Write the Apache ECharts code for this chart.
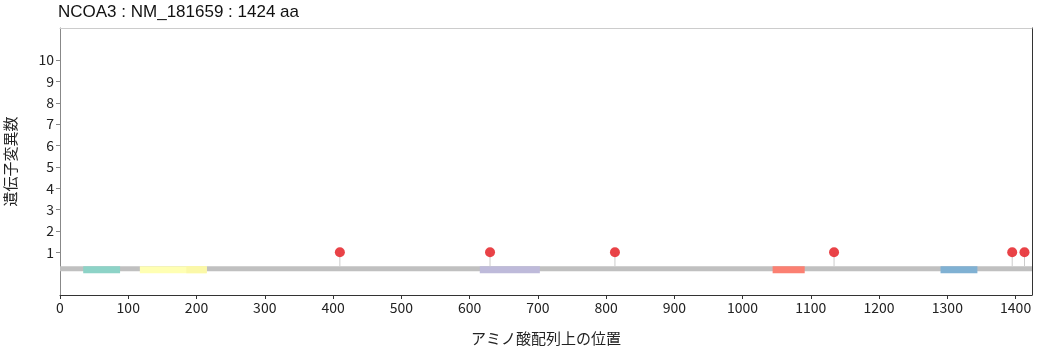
<!DOCTYPE html>
<html><head><meta charset="utf-8">
<script src="https://cdn.jsdelivr.net/npm/echarts@6/dist/echarts.min.js"></script>
<style>html,body{margin:0;padding:0;background:#fff}#c{width:1039px;height:350px}</style>
</head><body><div id="c"></div>
<script>
const titleText = "NCOA3 : NM_181659 : 1424 aa";
const proteinLength = 1424;
const xTicks = [0,100,200,300,400,500,600,700,800,900,1000,1100,1200,1300,1400];
const yTicks = [1,2,3,4,5,6,7,8,9,10];
const domainStart = [34, 117, 185, 615, 1044, 1290];
const domainEnd   = [88, 215, 215, 703, 1091, 1344];
const domainColor = ["#8dd3c7", "#ffffb3", "#fbf8a8", "#bebada", "#fb8072", "#80b1d3"];
const mutPos = [410, 630, 813, 1134, 1395, 1413];
const mutCount = [1, 1, 1, 1, 1, 1];
const backboneY = 0.23;

const font = '"Noto Sans CJK JP", "Noto Sans", sans-serif';
const chart = echarts.init(document.getElementById('c'), null, {renderer:'canvas'});
const domainData = domainStart.map((s,i)=>[s, domainEnd[i], i]);
const mutData = mutPos.map((p,i)=>[p, mutCount[i]]);

chart.setOption({
  animation:false,
  title:{text:titleText, left:53, top:-1, textStyle:{fontFamily:'"Liberation Sans", Arial, sans-serif', fontSize:17, fontWeight:'normal', color:'#111'}},
  grid:{left:60, right:7, top:28, bottom:55, show:false, containLabel:false, outerBoundsMode:'none'},
  xAxis:[{type:'value', min:0, max:proteinLength,
    name:'アミノ酸配列上の位置', nameLocation:'middle', nameGap:36,
    nameTextStyle:{fontFamily:font, fontSize:15, color:'#222'},
    axisLine:{show:true, onZero:false, lineStyle:{color:'#333'}},
    axisTick:{show:true, customValues:xTicks, length:4, lineStyle:{color:'#333'}},
    axisLabel:{customValues:xTicks, formatter:v=>String(v), fontFamily:font, fontSize:14, color:'#222', margin:6},
    splitLine:{show:false}},
   {type:'value', position:'top', min:0, max:proteinLength,
    axisLine:{show:true, onZero:false, lineStyle:{color:'#cccccc'}},
    axisTick:{show:false}, axisLabel:{show:false}, splitLine:{show:false}}],
  yAxis:[{type:'value', min:-1, max:11.5,
    name:'遺伝子変異数', nameLocation:'middle', nameGap:42, nameRotate:90,
    nameTextStyle:{fontFamily:font, fontSize:15, color:'#222'},
    axisLine:{show:true, onZero:false, lineStyle:{color:'#888'}},
    axisTick:{show:true, customValues:yTicks, length:4, lineStyle:{color:'#888'}},
    axisLabel:{customValues:yTicks, formatter:v=>String(v), fontFamily:font, fontSize:14, color:'#222', margin:6},
    splitLine:{show:false}},
   {type:'value', position:'right', min:-1, max:11.5,
    axisLine:{show:true, onZero:false, lineStyle:{color:'#333'}},
    axisTick:{show:false}, axisLabel:{show:false}, splitLine:{show:false}}],
  series:[
    {type:'custom', data:[[0, proteinLength]], z:1,
      renderItem:(params, api)=>{
        const a = api.coord([api.value(0), backboneY]);
        const b = api.coord([api.value(1), backboneY]);
        return {type:'rect', shape:{x:a[0], y:a[1]-2.5, width:b[0]-a[0], height:5}, style:{fill:'#c0c0c0'}};
      }},
    {type:'custom', data:domainData, z:2,
      renderItem:(params, api)=>{
        const a = api.coord([api.value(0), backboneY]);
        const b = api.coord([api.value(1), backboneY]);
        return {type:'rect', shape:{x:a[0], y:a[1]-2.5, width:b[0]-a[0], height:7}, style:{fill:domainColor[api.value(2)]}};
      }},
    {type:'custom', data:mutData, z:3,
      renderItem:(params, api)=>{
        const top = api.coord([api.value(0), api.value(1)]);
        const bot = api.coord([api.value(0), backboneY]);
        return {type:'line', shape:{x1:top[0], y1:top[1], x2:bot[0], y2:bot[1]-2.5}, style:{stroke:'#cccccc', lineWidth:1}};
      }},
    {type:'scatter', data:mutData, symbolSize:10, z:4,
      itemStyle:{color:'#e8383d', opacity:0.95}}
  ]
});
</script></body></html>
